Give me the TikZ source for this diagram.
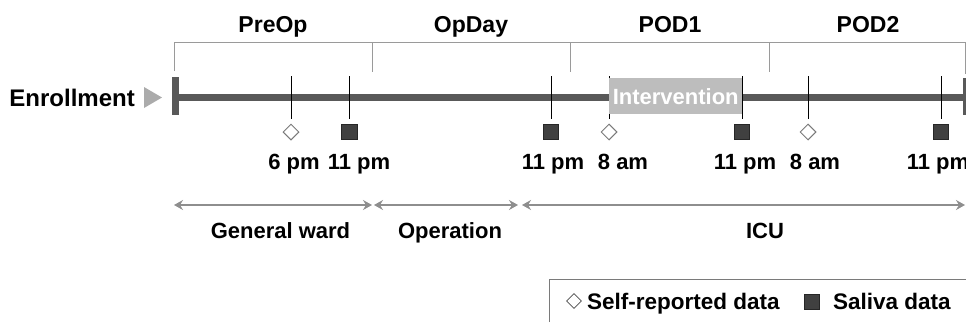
\documentclass[tikz,border=0pt]{standalone}
\usepackage{fontspec}
\setmainfont{Liberation Sans}
\usetikzlibrary{arrows.meta,shapes.geometric}

\definecolor{axisgray}{HTML}{595959}
\definecolor{bracketgray}{HTML}{9A9A9A}
\definecolor{spangray}{HTML}{8E8E8E}
\definecolor{boxgray}{HTML}{BDBDBD}
\definecolor{salivafill}{HTML}{404040}
\definecolor{diamondline}{HTML}{7A7A7A}
\definecolor{pointergray}{HTML}{ABABAB}

\tikzset{
  lbl/.style={font=\fontsize{22}{25}\selectfont\bfseries, inner sep=0pt, anchor=base},
  biglbl/.style={lbl, font=\fontsize{23}{26}\selectfont\bfseries},
  bracket/.style={draw=bracketgray, line width=1pt},
  tickline/.style={draw=black, line width=0.9pt},
  selfmark/.style={diamond, draw=diamondline, fill=white, line width=1pt,
                   minimum width=16pt, minimum height=16pt, inner sep=0pt},
  salivamark/.style={rectangle, draw=black!85, fill=salivafill, line width=0.6pt,
                     minimum width=15.5pt, minimum height=15.5pt, inner sep=0pt},
  span/.style={draw=spangray, line width=1.4pt,
               {Stealth[length=9pt,width=10pt,inset=3pt]}-{Stealth[length=9pt,width=10pt,inset=3pt]}},
}

\begin{document}
\begin{tikzpicture}[x=1pt,y=-1pt]
\useasboundingbox (0,0) rectangle (966,322);

% ---- day brackets ----
\draw[bracket] (174,71) -- (174,42) -- (965,42) -- (965,74);
\foreach \x in {372,570,769} \draw[bracket] (\x,42) -- (\x,72);
\node[biglbl] (preop) at (273,32) {PreOp};
\node[biglbl] (opday) at (471,32) {OpDay};
\node[biglbl] (pod1)  at (670,32) {POD1};
\node[biglbl] (pod2)  at (868,32) {POD2};

% ---- enrollment ----
\node[biglbl, font=\fontsize{24}{27}\selectfont\bfseries, anchor=base east] (enroll) at (135,106) {Enrollment};
\fill[pointergray] (144,87) -- (162,97.5) -- (144,108) -- cycle;

% ---- time axis ----
\coordinate (axL) at (175,97.5);
\coordinate (axR) at (964,97.5);
\draw[axisgray, line width=7pt] (axL) -- (axR);
\fill[axisgray] (172,77) rectangle (179,115);
\fill[axisgray] (963,78) rectangle (970,115);

% ---- sampling ticks and markers ----
\foreach \name/\x/\kind in {a/291/selfmark, b/349.5/salivamark, c/551/salivamark,
                            d/609/selfmark, e/742/salivamark, f/808/selfmark,
                            g/941/salivamark}{
  \coordinate (tk\name) at (\x,76);
  \draw[tickline] (tk\name) -- (\x,119);
  \node[\kind] (mk\name) at (\x,132) {};
}

% ---- intervention window ----
\node[fill=boxgray, inner sep=0pt, minimum width=133pt, minimum height=36pt,
      anchor=north west] (interv) at (609,78) {};
\node[lbl, text=white, anchor=base] at ([yshift=-8pt]interv.center) {Intervention};

% ---- time labels ----
\node[lbl] (ta) at (294,169) {6 pm};
\node[lbl] (tb) at (359,169) {11 pm};
\node[lbl] (tc) at (553,169) {11 pm};
\node[lbl] (td) at (623,169) {8 am};
\node[lbl] (te) at (745,169) {11 pm};
\node[lbl] (tf) at (815,169) {8 am};
\node[lbl] (tg) at (938,169) {11 pm};

% ---- location spans ----
\coordinate (s0) at (174,205);
\coordinate (s1) at (372,205);
\coordinate (s2) at (374,205);
\coordinate (s3) at (518,205);
\coordinate (s4) at (522,205);
\coordinate (s5) at (965,205);
\draw[span] (s0) -- (s1);
\draw[span] (s2) -- (s3);
\draw[span] (s4) -- (s5);
\node[lbl] (ward) at (280.5,238) {General ward};
\node[lbl] (oper) at (450,238) {Operation};
\node[lbl] (icu)  at (765,238) {ICU};

% ---- legend ----
\draw[draw=diamondline, line width=1pt] (549.5,322) -- (549.5,279.5) -- (966,279.5);
\node[selfmark, draw=black!70, line width=0.8pt, minimum width=15pt, minimum height=15pt] (lgself) at (574,301) {};
\node[lbl, font=\fontsize{22.5}{25}\selectfont\bfseries, anchor=base west] (lgselft) at (587,309) {Self-reported data};
\node[salivamark, minimum width=15pt, minimum height=15pt] (lgsal) at (812,302) {};
\node[lbl, font=\fontsize{22.5}{25}\selectfont\bfseries, anchor=base west] (lgsalt) at (833,309) {Saliva data};
\end{tikzpicture}
\end{document}
